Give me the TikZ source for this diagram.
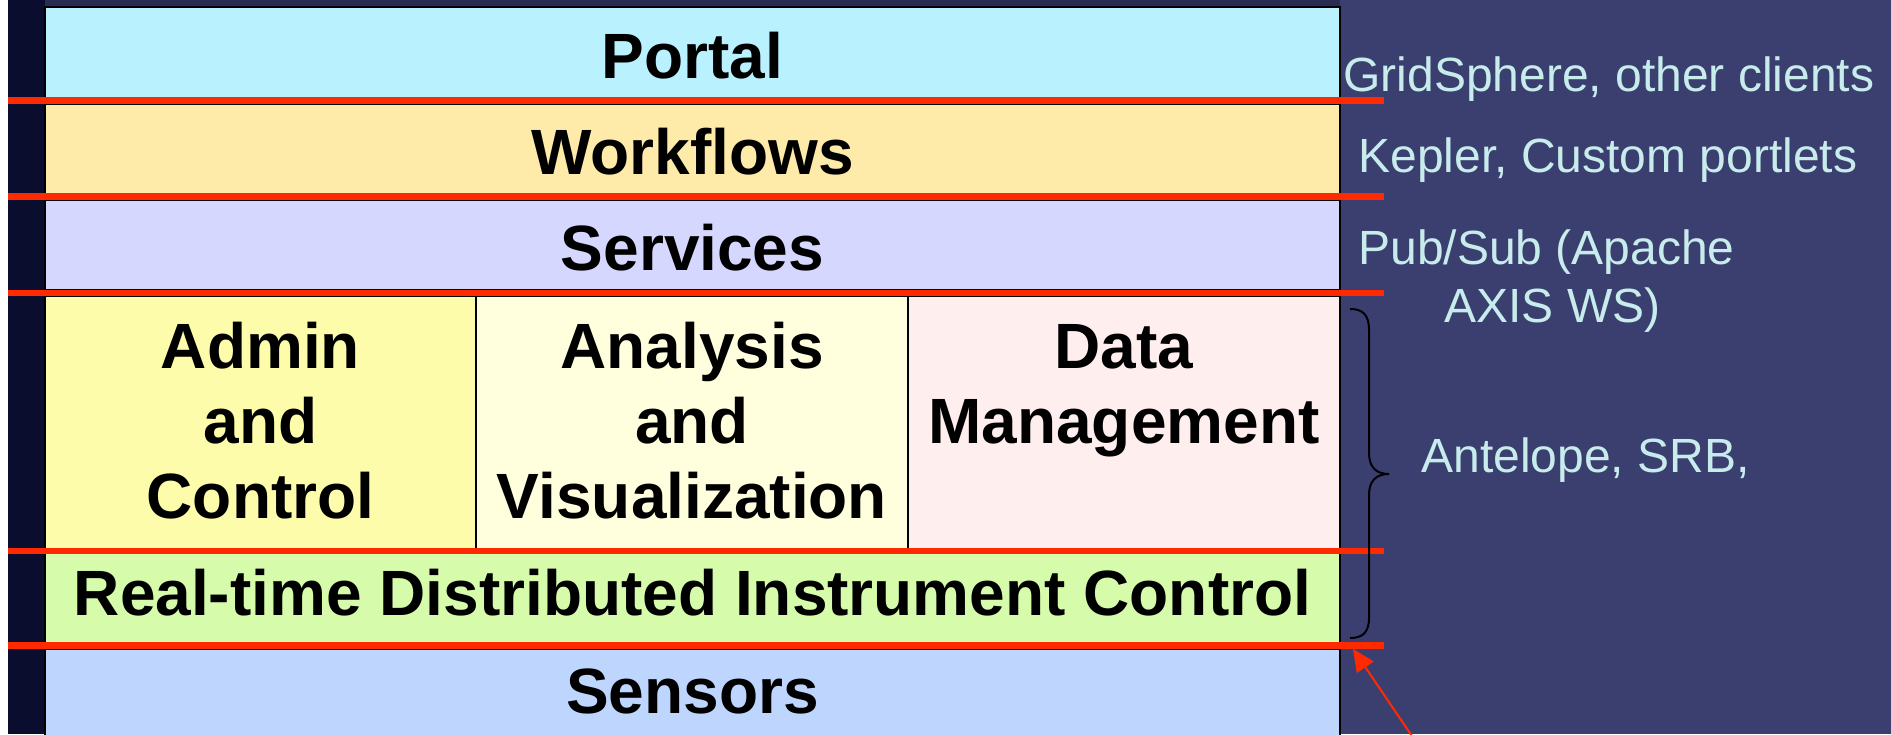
\documentclass[tikz,border=0pt]{standalone}
\usepackage{fontspec}
\setmainfont{Liberation Sans}
\usetikzlibrary{fit,arrows.meta}

\definecolor{navy}{RGB}{59,63,112}
\definecolor{navytop}{RGB}{40,43,84}
\definecolor{deepnavy}{RGB}{11,13,46}
\definecolor{sepred}{RGB}{255,42,0}
\definecolor{notecyan}{RGB}{200,236,236}
\definecolor{cportal}{RGB}{185,241,255}
\definecolor{cworkflow}{RGB}{254,234,169}
\definecolor{cservice}{RGB}{214,215,254}
\definecolor{cadmin}{RGB}{253,252,170}
\definecolor{canalysis}{RGB}{255,254,221}
\definecolor{cdata}{RGB}{255,238,238}
\definecolor{crealtime}{RGB}{213,251,171}
\definecolor{csensor}{RGB}{190,214,253}

\tikzset{
  layer/.style={draw=black, line width=0.8pt, inner sep=0pt},
  layertext/.style={anchor=base, align=center, inner sep=0pt,
    font=\fontsize{32}{37.5}\selectfont\bfseries},
  separator/.style={draw=sepred, line width=3.2pt},
  note/.style={anchor=base west, align=left, inner sep=0pt, text=notecyan,
    font=\fontsize{24}{29}\selectfont},
  pointer/.style={draw=sepred, line width=1pt,
    -{Triangle[length=11pt,width=10pt]}}
}

\begin{document}
\begin{tikzpicture}[x=0.5pt,y=-0.5pt]
  % canvas and backdrop
  \useasboundingbox (0,0) rectangle (1891,734);
  \fill[white] (0,0) rectangle (1891,734);
  \fill[navy] (8,0) rectangle (1891,734);
  \fill[navytop] (45,0) rectangle (1340,7);
  \fill[deepnavy] (8,0) rectangle (45,734);

  % layer boxes
  \node[layer, fill=cportal,   fit={(45,7) (1340,98)}]    (portal) {};
  \node[layer, fill=cworkflow, fit={(45,104) (1340,194)}] (workflows) {};
  \node[layer, fill=cservice,  fit={(45,200) (1340,290)}] (services) {};
  \node[layer, fill=cadmin,    fit={(45,296) (476,549)}]  (admin) {};
  \node[layer, fill=canalysis, fit={(476,296) (908,549)}] (analysis) {};
  \node[layer, fill=cdata,     fit={(908,296) (1340,549)}] (datamgmt) {};
  \node[layer, fill=crealtime, fit={(45,553) (1340,644)}] (realtime) {};
  \node[layer, fill=csensor,   fit={(45,649) (1340,745)}] (sensors) {};

  % layer titles (base anchor = baseline of the last line)
  \node[layertext] (portaltxt)    at (692.5,78)  {Portal};
  \node[layertext] (workflowstxt) at (692.5,174) {Workflows};
  \node[layertext] (servicestxt)  at (692.5,270) {Services};
  \node[layertext] (admintxt)     at (260.5,518) {Admin\\and\\Control};
  \node[layertext] (analysistxt)  at (692,518)   {Analysis\\and\\Visualization};
  \node[layertext] (datatxt)      at (1124,443)  {Data\\Management};
  \node[layertext] (realtimetxt)  at (692.5,615) {Real-time Distributed Instrument Control};
  \node[layertext] (sensorstxt)   at (692.5,713) {Sensors};

  % red separators between layers
  \foreach \yy in {100.5,196.5,293,551,645.5}
    \draw[separator] (8,\yy) -- (1384,\yy);

  % technology notes
  \node[note] (gridnote)     at (1343,91)  {GridSphere, other clients};
  \node[note] (keplernote)   at (1358,172) {Kepler, Custom portlets};
  \node[note] (pubsubnote)   at (1358,264) {Pub/Sub (Apache};
  \node[note] (axisnote)     at (1444,322) {AXIS WS)};
  \node[note] (antelopenote) at (1421,472) {Antelope, SRB,};

  % brace grouping the middle layers
  \draw[black, line width=1pt]
    (1350,309) .. controls (1362,309) and (1369,314) .. (1369,330)
    -- (1369,453) .. controls (1369,467) and (1376,474) .. (1389,474)
    .. controls (1376,474) and (1369,481) .. (1369,495)
    -- (1369,618) .. controls (1369,633) and (1362,638) .. (1350,638);

  % pointer to the lower boundary
  \coordinate (pointertail) at (1416,742);
  \coordinate (pointertip) at (1353,649);
  \draw[pointer] (pointertail) -- (pointertip);
\end{tikzpicture}
\end{document}
